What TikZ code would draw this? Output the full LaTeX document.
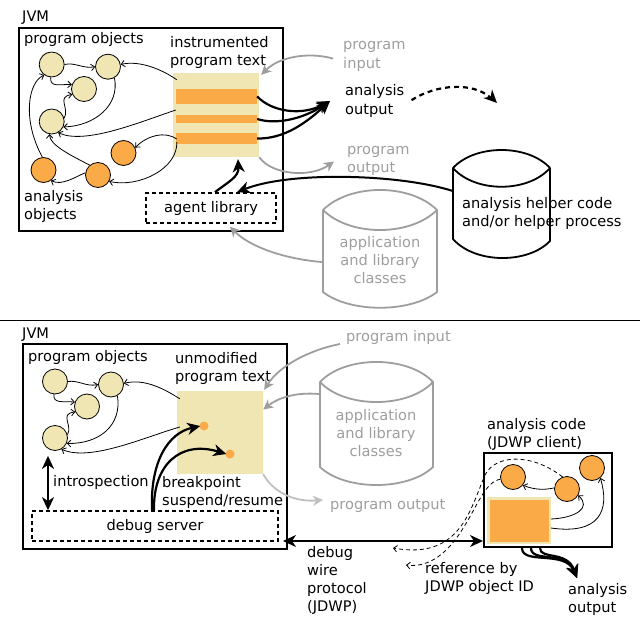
\documentclass[tikz,border=0pt]{standalone}
\usepackage{fontspec}
\setmainfont{DejaVu Sans}
\usetikzlibrary{arrows.meta,calc}
\definecolor{beige}{RGB}{240,230,180}
\definecolor{orng}{RGB}{251,170,72}
\definecolor{lgray}{RGB}{158,158,158}
\definecolor{lgray2}{RGB}{192,192,192}
\begin{document}
\begin{tikzpicture}[x=1pt,y=1pt, font=\fontsize{14.6}{18.3}\selectfont,
  txt/.style={inner sep=0pt, anchor=base west, align=left},
  ctxt/.style={inner sep=0pt, anchor=base, align=center},
  pobj/.style={circle, draw, line width=0.8pt, fill=beige, minimum size=25pt, inner sep=0pt},
  aobj/.style={pobj, fill=orng},
  jvmbox/.style={draw, line width=2pt, inner sep=0pt},
  dashbox/.style={draw, line width=1.6pt, dash pattern=on 4pt off 3pt, inner sep=0pt},
  tarr/.style={line width=0.8pt, -{Straight Barb[length=3.5pt,width=6.5pt]}},
  bigtip/.tip={Stealth[length=13pt,width=12pt,inset=4pt]},
  barr/.style={line width=2.2pt, -bigtip},
  dbl/.style={line width=2.2pt, bigtip-bigtip},
  garr/.style={draw=lgray, line width=1.8pt, -{Stealth[length=10pt,width=10pt,inset=3pt]}},
  dtarr/.style={line width=0.8pt, dash pattern=on 4pt off 3pt, -{Straight Barb[length=3.5pt,width=6.5pt]}},
  cyl/.style={line width=1.8pt, line join=round},
  region/.style={inner sep=0pt}
]
\useasboundingbox (0,0) rectangle (640,-618);

% ================= TOP =================
\node[txt] (jvm1) at (22,-22) {JVM};
\node[jvmbox, minimum width=264pt, minimum height=203pt] (vm1) at (151,-129.5) {};
\node[txt] (po1) at (24,-44) {program objects};
\node[txt] (ipt) at (170,-65.8) {instrumented\\program text};
\node[txt] (aobjl) at (24,-219.3) {analysis\\objects};

\node[fill=beige, minimum width=86pt, minimum height=84pt, inner sep=0pt] (pt1) at (216,-115) {};
\node[fill=orng, minimum width=81pt, minimum height=15pt, inner sep=0pt] (s1) at (216.5,-96.5) {};
\node[fill=orng, minimum width=81pt, minimum height=8pt, inner sep=0pt] (s2) at (216.5,-119) {};
\node[fill=orng, minimum width=81pt, minimum height=11pt, inner sep=0pt] (s3) at (216.5,-138.5) {};
\node[dashbox, minimum width=130pt, minimum height=30pt] (agent) at (211,-208) {agent library};

\node[pobj] (c1) at (51.7,-64.5) {};
\node[pobj] (c2) at (108,-66.7) {};
\node[pobj] (c3) at (84,-89) {};
\node[pobj] (c4) at (51.7,-121.5) {};
\node[aobj] (o1) at (123.5,-153) {};
\node[aobj] (o2) at (98,-175) {};
\node[aobj] (o3) at (43.5,-170) {};

% helper cylinder
\draw[cyl] (453,-168) .. controls (475,-144) and (528,-144) .. (550,-168)
  .. controls (528,-193) and (475,-193) .. (453,-168) -- (453,-239)
  .. controls (475,-264) and (528,-264) .. (550,-241) -- (550,-168);
\node[region, minimum width=97pt, minimum height=71pt] (helpc) at (501.5,-203.5) {};
\node[txt] (helpt) at (462,-226.3) {analysis helper code\\and/or helper process};

% app cylinder (top)
\draw[cyl, draw=lgray] (323,-210) .. controls (350,-183.3) and (410,-183.3) .. (437,-210)
  .. controls (410,-236.7) and (350,-236.7) .. (323,-210) -- (323,-292)
  .. controls (350,-313) and (410,-313) .. (437,-292) -- (437,-210);
\node[region, minimum width=114pt, minimum height=82pt] (cyl1) at (380,-251) {};
\node[ctxt, text=lgray] (app1) at (380,-283.6) {application\\and library\\classes};

\node[txt, text=lgray] (pin1) at (343,-68.3) {program\\input};
\node[txt] (aout1) at (345,-114.3) {analysis\\output};
\node[txt, text=lgray] (pout1) at (347,-172.3) {program\\output};

% thin connectors top
\draw[tarr] (c1.east) .. controls (75,-62) and (83,-69) .. (c2.west);
\draw[tarr] (c1.-95) .. controls (50,-88) and (60,-84) .. (c3.160);
\draw[tarr] (c4.15) .. controls (70,-108) and (56,-97) .. (c3.205);
\draw[tarr] (c2.-60) .. controls (120,-105) and (95,-126) .. (c4.-25);
\draw[tarr] ($(pt1.north west)+(4,-7)$) .. controls (163,-70) and (140,-60) .. (c2.10);
\draw[tarr] ($(pt1.west)+(3,5)$) .. controls (140,-122) and (85,-145) .. (c4.-60);
\draw[tarr] ($(pt1.west)+(4,-24)$) .. controls (165,-131) and (148,-135) .. (o1.25);
\draw[tarr] ($(pt1.west)+(4,-27)$) .. controls (178,-168) and (140,-188) .. (o2.-30);
\draw[tarr] (o2.170) .. controls (75,-177) and (62,-186) .. (o3.-55);
\draw[tarr] (o3.95) .. controls (22,-120) and (28,-82) .. (c1.235);
\draw[tarr] (o2.130) .. controls (70,-155) and (50,-145) .. (c4.-100);

% thick connectors top
\coordinate (aotip) at (330,-101);
\draw[barr] (s1.east) .. controls (272,-112) and (302,-116) .. (aotip);
\draw[barr] (s2.east) .. controls (276,-125) and (303,-119) .. (aotip);
\draw[barr] (s3.east) .. controls (285,-139) and (307,-122) .. (aotip);
\coordinate (dend) at (497,-103);
\draw[line width=2.2pt, dash pattern=on 5pt off 4pt, shorten >=9pt] ($(aout1.east)+(7,1)$) .. controls (437,-84) and (472,-82) .. (dend);
\draw[barr] ($(dend)+(-3,3)$) -- (dend);
\draw[line width=2pt, -bigtip] ($(helpc.west)+(0,12.5)$) .. controls (400,-174) and (290,-171) .. ($(agent.north)+(26,0)$);
\draw[barr] ($(agent.north)+(4,0)$) .. controls (228,-182) and (239,-177) .. ($(pt1.south)+(22,-2)$);

% gray connectors top
\draw[garr] ($(pin1.west)+(-10,-2)$) .. controls (310,-52) and (280,-56) .. ($(pt1.north east)+(2,-2)$);
\draw[garr] (pt1.south east) .. controls (272,-175) and (310,-178) .. ($(pout1.west)+(-13,-1)$);
\draw[garr] ($(cyl1.west)+(-1,-11)$) .. controls (285,-259) and (250,-247) .. ($(agent.south)+(19,-3)$);

% separator
\draw[line width=1pt] (0,-320) -- (640,-320);

% ================= BOTTOM =================
\node[txt] (jvm2) at (22,-338) {JVM};
\node[jvmbox, minimum width=264pt, minimum height=205pt] (vm2) at (155,-446.5) {};
\node[txt] (po2) at (28,-361) {program objects};
\node[txt] (upt) at (175,-381.3) {unmodified\\program text};
\node[fill=beige, minimum width=86pt, minimum height=83pt, inner sep=0pt] (pt2) at (220,-432.5) {};
\node[circle, fill=orng, minimum size=9pt, inner sep=0pt] (bp1) at (204,-426) {};
\node[circle, fill=orng, minimum size=9pt, inner sep=0pt] (bp2) at (230,-454) {};
\node[dashbox, minimum width=246pt, minimum height=30pt] (dbg) at (155,-526) {debug server};
\node[txt] (intro) at (53,-486) {introspection};
\node[txt] (brk) at (162,-505.3) {breakpoint\\suspend/resume};

\node[pobj] (d1) at (55,-381.5) {};
\node[pobj] (d2) at (111,-384.5) {};
\node[pobj] (d3) at (87,-406.5) {};
\node[pobj] (d4) at (55,-438) {};

\node[txt, text=lgray] (pin2) at (346,-341) {program input};
\draw[cyl, draw=lgray] (320,-382) .. controls (345,-355.3) and (408,-355.3) .. (433,-382)
  .. controls (408,-408.7) and (345,-408.7) .. (320,-382) -- (320,-467)
  .. controls (345,-491) and (408,-491) .. (433,-467) -- (433,-382);
\node[region, minimum width=113pt, minimum height=85pt] (cyl2) at (376.5,-424.5) {};
\node[ctxt, text=lgray] (app2) at (376,-456.6) {application\\and library\\classes};
\node[txt, text=lgray] (pout2) at (330,-509) {program output};

\node[txt] (acode) at (487,-447.3) {analysis code\\(JDWP client)};
\node[jvmbox, minimum width=128pt, minimum height=94pt] (abox) at (548,-500) {};
\node[fill=orng, draw=beige, line width=2.5pt, minimum width=61.5pt, minimum height=44.5pt, inner sep=0pt] (sq) at (519,-520.5) {};
\node[aobj] (e1) at (513,-477) {};
\node[aobj] (e2) at (567,-489) {};
\node[aobj] (e3) at (592,-468) {};

\node[txt] (dwp) at (307,-611.9) {debug\\wire\\protocol\\(JDWP)};
\node[txt] (ref) at (425,-591.3) {reference by\\JDWP object ID};
\node[txt] (aout2) at (568,-612.3) {analysis\\output};

% thin connectors bottom
\draw[tarr] (d1.east) .. controls (79,-380) and (86,-387) .. (d2.west);
\draw[tarr] (d1.-95) .. controls (53,-404) and (63,-401) .. (d3.160);
\draw[tarr] (d4.15) .. controls (73,-425) and (59,-414) .. (d3.205);
\draw[tarr] (d2.-60) .. controls (122,-425) and (100,-444) .. (d4.-25);
\draw[tarr] ($(pt2.north west)+(3,-8)$) .. controls (166,-390) and (145,-378) .. (d2.5);
\draw[tarr] ($(pt2.west)+(3,5.5)$) .. controls (145,-437) and (90,-462) .. (d4.-60);

% thick connectors bottom
\draw[barr] ($(dbg.north)+(-3,0)$) .. controls (150,-462) and (168,-433) .. ($(bp1.west)+(1,0)$);
\draw[barr] ($(dbg.north)+(-1,0)$) .. controls (153,-465) and (180,-440) .. ($(bp2.west)+(1,0)$);
\coordinate (introT) at ($(d4.south)+(-7,-5)$);
\draw[dbl] (introT) -- (introT |- dbg.north);
\draw[line width=2pt, bigtip-bigtip] ($(vm2.south east)+(-5,9)$) -- ($(abox.south west)+(0,7)$);
\coordinate (ao2tip) at (577,-578);
\draw[barr] ($(abox.south)+(-26,0)$) .. controls (522,-565) and (565,-550) .. (ao2tip);
\draw[barr] ($(abox.south)+(-17,0)$) .. controls (531,-563) and (566,-550) .. (ao2tip);
\draw[barr] ($(abox.south)+(-8,0)$) .. controls (540,-560) and (567,-550) .. (ao2tip);

% gray connectors bottom
\draw[garr] ($(pin2.west)+(-6,-7)$) .. controls (310,-350) and (280,-365) .. ($(pt2.north east)+(1,1)$);
\draw[garr] ($(cyl2.west)+(-1,30.5)$) .. controls (295,-392) and (278,-398) .. ($(pt2.east)+(0,23)$);
\draw[garr, draw=lgray2] (pt2.south east) .. controls (275,-495) and (298,-502) .. ($(pout2.west)+(-7,5.5)$);

% analysis box connectors
\draw[tarr] (e2.175) .. controls (545,-490) and (535,-490) .. (e1.-40);
\draw[tarr] ($(sq.east)+(0,1.5)$) .. controls (575,-518) and (592,-508) .. (e2.-30);
\draw[tarr] ($(sq.east)+(0,-7.5)$) .. controls (600,-535) and (610,-510) .. (e3.-50);
\coordinate (ref1) at (393,-548);
\coordinate (ref2) at (406,-565);
\draw[dtarr] (e2.110) .. controls (530,-452) and (495,-455) .. (485,-475) .. controls (470,-510) and (460,-560) .. (ref1);
\draw[dtarr] (e1.190) .. controls (485,-482) and (478,-505) .. (462,-530) .. controls (448,-552) and (430,-568) .. (ref2);
\end{tikzpicture}
\end{document}
